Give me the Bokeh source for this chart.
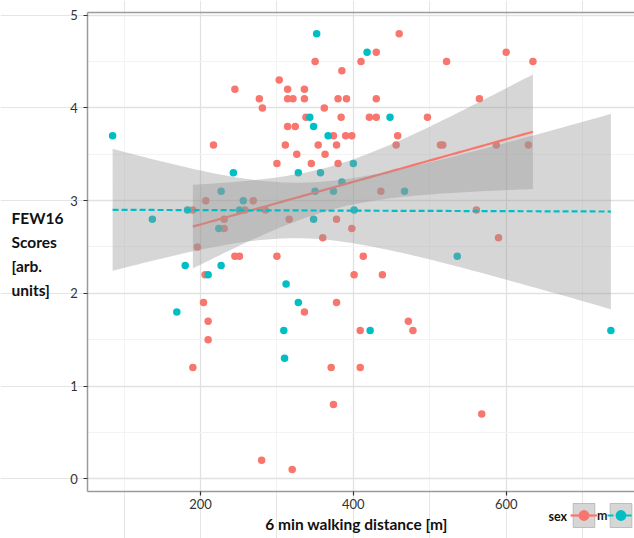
import numpy as np
from bokeh.plotting import figure
from bokeh.models import (FixedTicker, Label, Legend, LegendItem, LinearAxis,
                          ColumnDataSource, Range1d, Grid)
from bokeh.embed import file_html
from bokeh.resources import INLINE

# ---------------- data ----------------
m_x = [350, 385, 410, 303, 245, 314, 336, 277, 314, 321, 336, 380, 391, 281, 362,
       338, 384, 314, 324, 374, 390, 398, 217, 311, 354, 378, 326, 363, 300, 345,
       380, 207, 269, 190, 258, 285, 231, 316, 378, 231, 398, 360, 196, 245, 251,
       300, 206, 401, 204, 378, 336, 210, 210, 190, 371, 409, 374, 280, 320, 409,
       413, 438, 472, 478, 568, 590, 460, 430, 600, 522, 635, 430, 565, 421, 430,
       497, 458, 456, 514, 517, 587, 629, 436, 561]
m_y = [4.5, 4.4, 4.5, 4.3, 4.2, 4.2, 4.2, 4.1, 4.1, 4.1, 4.1, 4.1, 4.1, 4.0, 4.0,
       3.9, 3.9, 3.8, 3.8, 3.7, 3.7, 3.7, 3.6, 3.6, 3.6, 3.6, 3.5, 3.5, 3.4, 3.4,
       3.4, 3.0, 3.0, 2.9, 2.9, 2.9, 2.8, 2.8, 2.8, 2.7, 2.7, 2.6, 2.5, 2.4, 2.4,
       2.4, 2.2, 2.2, 1.9, 1.9, 1.8, 1.7, 1.5, 1.2, 1.2, 1.2, 0.8, 0.2, 0.1, 1.6,
       2.4, 2.2, 1.7, 1.6, 0.7, 2.6, 4.8, 4.6, 4.6, 4.5, 4.5, 4.1, 4.1, 3.9, 3.9,
       3.9, 3.7, 3.6, 3.6, 3.6, 3.6, 3.6, 3.1, 2.9]

f_x = [85, 352, 343, 348, 367, 400, 243, 328, 357, 385, 350, 374, 227, 256, 183,
       251, 401, 137, 348, 224, 180, 227, 210, 312, 328, 169, 309, 310, 418, 448,
       467, 536, 422, 737]
f_y = [3.7, 4.8, 3.9, 3.8, 3.7, 3.4, 3.3, 3.3, 3.3, 3.2, 3.1, 3.1, 3.1, 3.0, 2.9,
       2.9, 2.9, 2.8, 2.8, 2.7, 2.3, 2.3, 2.2, 2.1, 1.9, 1.8, 1.6, 1.3, 4.6, 3.9,
       3.1, 2.4, 1.6, 1.6]

x_ticks = [200, 400, 600]
x_minor = [100, 300, 500, 700]
y_ticks = [0, 1, 2, 3, 4, 5]
y_minor = [0.5, 1.5, 2.5, 3.5, 4.5]

x_title = "6 min walking distance [m]"
y_title_lines = ["FEW16", "Scores", "[arb.", "units]"]
legend_title = "sex"
groups = ["m", "f"]

# panel limits (ggplot-style expanded data limits)
X_LIM = (52.54, 767.9)
Y_LIM = (-0.134, 5.032)
# whole-canvas ranges (space around the panel for titles and legend)
X_RANGE = (-61.69, 767.9)
Y_RANGE = (-0.644, 5.1585)

RED = "#F8766D"
TEAL = "#00BFC4"
FONT = "Lato"
BORDER = "#9A9A9A"


def lm_smooth(xs, ys, n=80):
    """linear model fit with 95% confidence band (as geom_smooth(method='lm'))"""
    x = np.asarray(xs, float)
    y = np.asarray(ys, float)
    N = len(x)
    b, a = np.polyfit(x, y, 1)
    xg = np.linspace(x.min(), x.max(), n)
    yhat = a + b * xg
    resid = y - (a + b * x)
    s = np.sqrt((resid ** 2).sum() / (N - 2))
    xm = x.mean()
    sxx = ((x - xm) ** 2).sum()
    se = s * np.sqrt(1.0 / N + (xg - xm) ** 2 / sxx)
    t = 1.96 + 2.4 / (N - 2)
    return xg, yhat, yhat - t * se, yhat + t * se


p = figure(width=634, height=538, output_backend="svg", toolbar_location=None,
           x_range=Range1d(*X_RANGE), y_range=Range1d(*Y_RANGE),
           min_border=0, x_axis_location=None, y_axis_location=None)
p.outline_line_color = None
p.background_fill_color = "white"
p.border_fill_color = "white"

xaxis = LinearAxis(fixed_location=Y_LIM[0], bounds=X_LIM)
yaxis = LinearAxis(fixed_location=X_LIM[0], bounds=Y_LIM)
topaxis = LinearAxis(fixed_location=Y_LIM[1], bounds=X_LIM,
                     ticker=FixedTicker(ticks=[]), major_tick_line_color=None,
                     minor_tick_line_color=None, major_label_text_font_size="0px",
                     axis_line_color=BORDER, axis_line_width=1.7)
p.add_layout(xaxis, "below")
p.add_layout(yaxis, "left")
p.add_layout(topaxis, "above")

for ax, ticks, minor in ((xaxis, x_ticks, x_minor), (yaxis, y_ticks, y_minor)):
    ax.ticker = FixedTicker(ticks=ticks, minor_ticks=minor)
    ax.axis_line_color = BORDER
    ax.axis_line_width = 1.5
    ax.major_tick_line_color = "#333333"
    ax.major_tick_line_width = 1.2
    ax.major_tick_out = 4
    ax.major_tick_in = 0
    ax.minor_tick_line_color = None
    ax.major_label_text_font = FONT
    ax.major_label_text_font_size = "13px"
    ax.major_label_text_color = "#333333"
xaxis.major_label_standoff = 4
yaxis.major_label_standoff = 6

xgrid = Grid(dimension=0, ticker=xaxis.ticker, cross_bounds=Y_LIM)
ygrid = Grid(dimension=1, ticker=yaxis.ticker, cross_bounds=X_LIM)
for g in (xgrid, ygrid):
    g.grid_line_color = "#E1E1E1"
    g.grid_line_width = 1.3
    g.minor_grid_line_color = "#F3F3F3"
    g.minor_grid_line_width = 1
    g.level = "underlay"
    p.add_layout(g)

# points
src_m = ColumnDataSource(dict(x=m_x, y=m_y))
src_f = ColumnDataSource(dict(x=f_x, y=f_y))
sc_m = p.scatter("x", "y", source=src_m, size=7.5, fill_color=RED, line_color=None)
sc_f = p.scatter("x", "y", source=src_f, size=7.5, fill_color=TEAL, line_color=None)

# smooths: ribbon then line, per group
xg, yh, lo, hi = lm_smooth(m_x, m_y)
p.varea(x=xg, y1=lo, y2=hi, fill_color="#999999", fill_alpha=0.4)
ln_m = p.line(xg, yh, line_color=RED, line_width=2.2)
xg, yh, lo, hi = lm_smooth(f_x, f_y)
p.varea(x=xg, y1=lo, y2=hi, fill_color="#999999", fill_alpha=0.4)
ln_f = p.line(xg, yh, line_color=TEAL, line_width=2.2, line_dash="6 3")

# legend key boxes (renderers without a visible mark, only used in the legend)
nan = [np.nan]
box_m = p.quad(left=nan, right=nan, top=nan, bottom=nan, fill_color="#D6D6D6",
               line_color="#BDBDBD")
box_f = p.quad(left=nan, right=nan, top=nan, bottom=nan, fill_color="#D6D6D6",
               line_color="#BDBDBD")

legend = Legend(items=[LegendItem(label=groups[0], renderers=[box_m, ln_m, sc_m]),
                       LegendItem(label=groups[1], renderers=[box_f, ln_f, sc_f])],
                location=(570, 8), orientation="horizontal", padding=0, margin=0,
                spacing=0, label_standoff=0, glyph_width=27, glyph_height=30,
                label_height=30, label_width=8, border_line_color=None,
                background_fill_alpha=0, label_text_font=FONT,
                label_text_font_size="12.5px", label_text_font_style="bold",
                label_text_color="#222222")
p.add_layout(legend, "center")

# texts (screen units, measured from the bottom-left of the canvas)
p.add_layout(Label(x=548, y=22, x_units="screen", y_units="screen",
                   text=legend_title, text_font=FONT, text_font_size="12.5px",
                   text_font_style="bold", text_baseline="middle",
                   text_color="#111111"))
p.add_layout(Label(x=356, y=15, x_units="screen", y_units="screen",
                   text=x_title, text_font=FONT, text_font_size="15.5px",
                   text_font_style="bold", text_align="center",
                   text_baseline="middle", text_color="#111111"))
for i, t in enumerate(y_title_lines):
    p.add_layout(Label(x=11, y=321 - 24 * i, x_units="screen", y_units="screen",
                       text=t, text_font=FONT, text_font_size="15.5px",
                       text_font_style="bold", text_align="left",
                       text_baseline="middle", text_color="#111111"))

open("out.html", "w").write(file_html(p, INLINE))
